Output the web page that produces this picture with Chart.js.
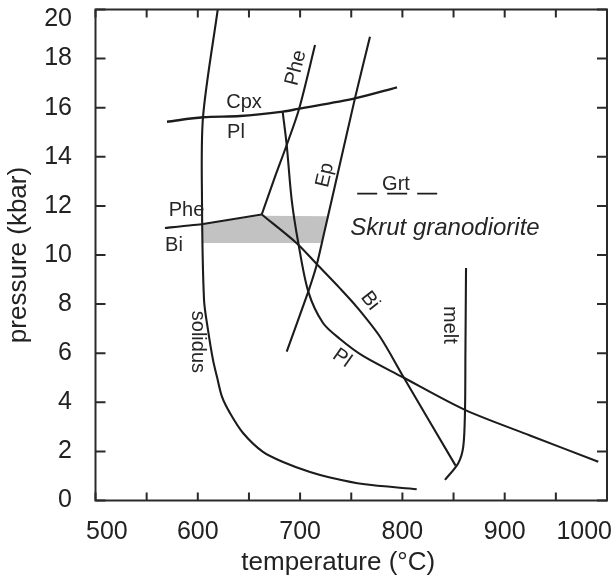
<!DOCTYPE html>
<html><head><meta charset="utf-8">
<script src="https://cdn.jsdelivr.net/npm/chart.js@4.4.1/dist/chart.umd.min.js"></script>
<style>html,body{margin:0;padding:0;background:#fff;}canvas{display:block;}</style>
</head><body>
<canvas id="c" width="615" height="583"></canvas>
<script>
// ---- data (temperature °C, pressure kbar) ----
const solidusT = [619.5, 605.1, 604.1, 606.1, 610.0, 614.9, 618.8, 623.7, 631.5, 644.2, 663.7, 683.3, 709.7, 729.2, 761.5, 814.0];
const solidusP = [20.0, 15.62, 12.24, 8.17, 6.94, 5.72, 5.03, 4.22, 3.56, 2.75, 1.98, 1.57, 1.16, 0.94, 0.67, 0.46];
const cpxPlT = [569.9, 605.1, 641.3, 683.3, 697.9, 753.6, 794.7];
const cpxPlP = [15.43, 15.61, 15.66, 15.84, 15.95, 16.38, 16.83];
const pheBiT = [567.9, 605.1, 662.5];
const pheBiP = [11.10, 11.26, 11.65];
const pheT = [662.5, 675.5, 686.9, 699.2, 714.6];
const pheP = [11.65, 13.19, 14.48, 15.98, 18.55];
const plT = [683.0, 686.9, 691.8, 698.3, 708.0, 722.4, 739.0, 761.5, 799.6, 861.2, 924.7, 991.5];
const plP = [15.82, 14.48, 12.24, 10.48, 8.51, 7.23, 6.58, 5.89, 5.04, 3.69, 2.65, 1.58];
const biT = [662.5, 696.7, 716.2, 739.0, 755.3, 778.1, 800.9, 852.0];
const biP = [11.65, 10.48, 9.63, 8.64, 7.89, 6.67, 5.04, 1.42];
const epT = [686.9, 708.0, 716.2, 722.7, 730.9, 753.6, 768.3];
const epP = [6.06, 8.51, 9.59, 10.75, 12.24, 16.38, 18.89];
const meltT = [862.2, 861.6, 861.2, 859.5, 854.6, 841.6];
const meltP = [9.47, 6.0, 3.69, 2.19, 1.52, 0.84];
const grtT = [755.8, 834.0];
const grtP = [12.5, 12.5];
const skrutT = [605.0, 662.5, 727.3, 721.2, 604.3, 605.0];
const skrutP = [11.26, 11.60, 11.58, 10.49, 10.49, 11.26];
const xTicks = [500, 550, 600, 650, 700, 750, 800, 850, 900, 950, 1000];
const xLabels = [500, 600, 700, 800, 900, 1000];
const yTicks = [0, 2, 4, 6, 8, 10, 12, 14, 16, 18, 20];
const yLabels = [0, 2, 4, 6, 8, 10, 12, 14, 16, 18, 20];

// ---- annotations (text placed in data space) ----
const notes = [
  {text:'Cpx', t:645.2, p:16.23, rot:0},
  {text:'Pl', t:637.3, p:15.01, rot:0},
  {text:'Phe', t:589.0, p:11.83, rot:0},
  {text:'Bi', t:576.7, p:10.37, rot:0},
  {text:'Phe', t:696.0, p:17.62, rot:-76},
  {text:'Ep', t:724.4, p:13.26, rot:-77},
  {text:'Grt', t:793.7, p:12.87, rot:0},
  {text:'Skrut granodiorite', t:841.6, p:11.10, rot:0, italic:true, size:24},
  {text:'solidus', t:600.2, p:6.46, rot:90},
  {text:'melt', t:846.5, p:7.15, rot:90},
  {text:'Bi', t:768.3, p:8.13, rot:52},
  {text:'Pl', t:741.0, p:5.80, rot:35}
];

const FONT = '"Liberation Sans", Arial, Helvetica, sans-serif';
const pts = (T, P) => T.map((t, i) => ({x: t, y: P[i]}));
const line = (T, P, extra) => Object.assign({
  data: pts(T, P), showLine: true, pointRadius: 0, borderColor: '#1c1c1c',
  borderWidth: 2.1, tension: 0.3, fill: false, order: 0
}, extra || {});

const frame = {
  id: 'frame',
  afterDatasetsDraw(chart) {
    const {ctx, chartArea: a, scales: {x, y}} = chart;
    ctx.save();
    ctx.strokeStyle = '#2a2a2a';
    ctx.lineWidth = 2;
    ctx.strokeRect(a.left, a.top, a.right - a.left, a.bottom - a.top);
    ctx.beginPath();
    xTicks.forEach(v => {
      const px = x.getPixelForValue(v);
      ctx.moveTo(px, a.bottom); ctx.lineTo(px, a.bottom - 8);
      ctx.moveTo(px, a.top); ctx.lineTo(px, a.top + 8);
    });
    yTicks.forEach(v => {
      const py = y.getPixelForValue(v);
      ctx.moveTo(a.left, py); ctx.lineTo(a.left + 10, py);
      ctx.moveTo(a.right, py); ctx.lineTo(a.right - 10, py);
    });
    ctx.stroke();

    ctx.fillStyle = '#222';
    ctx.font = '25px ' + FONT;
    ctx.textAlign = 'center';
    ctx.textBaseline = 'middle';
    xLabels.forEach(v => {
      const s = String(v), w = ctx.measureText(s).width;
      let px = x.getPixelForValue(v);
      px = Math.min(Math.max(px, a.left - 9.5 + w / 2), chart.width - 3 - w / 2);
      ctx.fillText(s, px, a.bottom + 32);
    });
    ctx.textAlign = 'right';
    yLabels.forEach(v => {
      let py = y.getPixelForValue(v);
      py = Math.max(py, a.top + 9.5);
      ctx.fillText(String(v), a.left - 23.5, py);
    });

    ctx.font = '26px ' + FONT;
    ctx.textAlign = 'center';
    ctx.fillText('temperature (\u00B0C)', (a.left + a.right) / 2 - 13, a.bottom + 62);
    ctx.save();
    ctx.translate(19, (a.top + a.bottom) / 2);
    ctx.rotate(-Math.PI / 2);
    ctx.fillText('pressure (kbar)', 0, 0);
    ctx.restore();

    notes.forEach(n => {
      ctx.save();
      ctx.font = (n.italic ? 'italic ' : '') + (n.size || 20) + 'px ' + FONT;
      ctx.fillStyle = '#262626';
      ctx.textAlign = 'center';
      ctx.textBaseline = 'middle';
      ctx.translate(x.getPixelForValue(n.t), y.getPixelForValue(n.p));
      ctx.rotate(n.rot * Math.PI / 180);
      ctx.fillText(n.text, 0, 0);
      ctx.restore();
    });
    ctx.restore();
  }
};

new Chart(document.getElementById('c'), {
  type: 'scatter',
  data: {
    datasets: [
      line(solidusT, solidusP),
      line(cpxPlT, cpxPlP, {borderWidth: 2.4}),
      line(pheBiT, pheBiP, {tension: 0.1}),
      line(pheT, pheP),
      line(plT, plP),
      line(biT, biP),
      line(epT, epP, {tension: 0.2}),
      line(meltT, meltP),
      line(grtT, grtP, {borderWidth: 1.6, borderDash: [20, 10], tension: 0}),
      {data: pts(skrutT, skrutP), showLine: true, pointRadius: 0, borderWidth: 0,
       borderColor: 'rgba(0,0,0,0)', backgroundColor: '#c2c2c2', fill: 'shape', tension: 0, order: 5}
    ]
  },
  options: {
    responsive: false,
    devicePixelRatio: 1,
    animation: false,
    layout: {padding: {left: 95.5, right: 8, top: 9.5, bottom: 82.5}},
    plugins: {legend: {display: false}, tooltip: {enabled: false}},
    scales: {
      x: {type: 'linear', min: 500, max: 1000, display: false},
      y: {type: 'linear', min: 0, max: 20, display: false}
    }
  },
  plugins: [frame]
});
</script>
</body></html>
